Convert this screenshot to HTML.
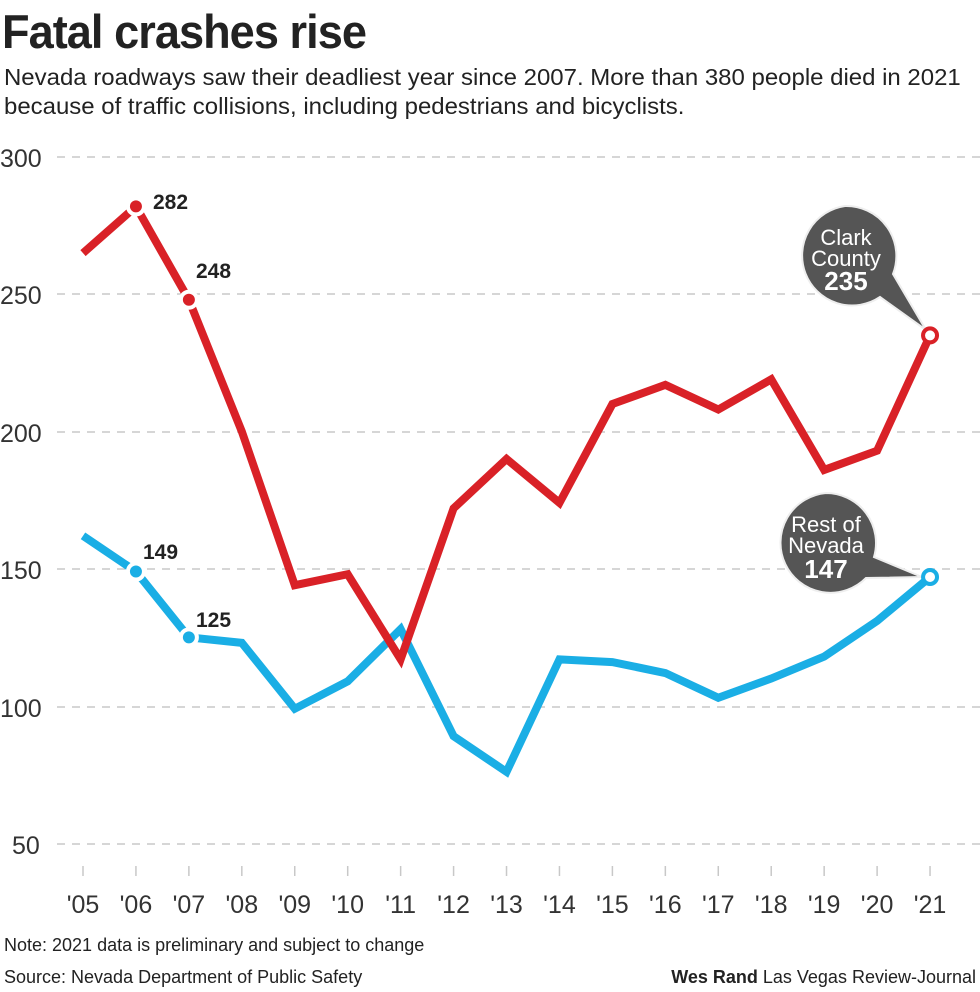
<!DOCTYPE html>
<html><head><meta charset="utf-8"><style>
html,body{margin:0;padding:0;background:#fff;}
body{width:980px;height:992px;position:relative;overflow:hidden;font-family:"Liberation Sans",sans-serif;color:#222;}
.t{position:absolute;white-space:nowrap;}
</style></head><body>
<div class="t" style="left:2px;top:4px;font-size:47px;font-weight:bold;letter-spacing:-1px;transform:scaleX(0.96);transform-origin:0 0;">Fatal crashes rise</div>
<div class="t" style="left:4px;top:63px;font-size:23.5px;line-height:29px;color:#222;transform:scaleX(1.02);transform-origin:0 0;">Nevada roadways saw their deadliest year since 2007. More than 380 people died in 2021<br>because of traffic collisions, including pedestrians and bicyclists.</div>
<svg width="980" height="992" style="position:absolute;left:0;top:0" font-family="Liberation Sans, sans-serif">
<g stroke="#c8c8c8" stroke-width="1.5" stroke-dasharray="8,7">
<line x1="57" x2="980" y1="157" y2="157"/>
<line x1="57" x2="980" y1="294" y2="294"/>
<line x1="57" x2="980" y1="432" y2="432"/>
<line x1="57" x2="980" y1="569" y2="569"/>
<line x1="57" x2="980" y1="707" y2="707"/>
<line x1="57" x2="980" y1="844" y2="844"/>
</g>
<g font-size="25" fill="#333">
<text x="0" y="167">300</text><text x="0" y="304">250</text><text x="0" y="442">200</text>
<text x="0" y="579">150</text><text x="0" y="717">100</text><text x="12" y="854">50</text>
</g>
<g stroke="#c8c8c8" stroke-width="1.5" id="vt"></g>
<g id="xl" font-size="25" fill="#333" text-anchor="middle"></g>
<polyline id="blue" fill="none" stroke="#1aaee5" stroke-width="8" stroke-linejoin="miter"/>
<polyline id="red" fill="none" stroke="#d92127" stroke-width="8" stroke-linejoin="miter"/>
<g id="marks"></g>
<g font-size="21" font-weight="bold" fill="#222">
<text x="153" y="209">282</text><text x="196" y="278">248</text>
<text x="143" y="559">149</text><text x="196" y="627">125</text>
</g>
<path d="M845,206 a50,50 0 0 1 48,68 L926,330 L880,297 a50,50 0 1 1 -35,-91z" fill="#555" stroke="#eee" stroke-width="2"/>
<g fill="#fff" text-anchor="middle"><text x="846" y="245" font-size="22">Clark</text><text x="846" y="266" font-size="22">County</text><text x="846" y="290" font-size="26" font-weight="bold">235</text></g>
<path d="M826,493 a50,50 0 0 1 48,64 L922,577 L866,578 a50,50 0 1 1 -40,-85z" fill="#555" stroke="#eee" stroke-width="2"/>
<g fill="#fff" text-anchor="middle"><text x="826" y="532" font-size="22">Rest of</text><text x="826" y="553" font-size="22">Nevada</text><text x="826" y="578" font-size="26" font-weight="bold">147</text></g>
<g id="ends"></g>
<text x="4" y="951" font-size="18" fill="#222">Note: 2021 data is preliminary and subject to change</text>
<text x="4" y="983" font-size="18" fill="#222">Source: Nevada Department of Public Safety</text>
<text x="976" y="983" font-size="18" fill="#222" text-anchor="end"><tspan font-weight="bold">Wes Rand</tspan>  Las Vegas Review-Journal</text>
</svg>
<script>
const red=[265,282,248,200,144,148,117,172,190,174,210,217,208,219,186,193,235];
const blue=[162,149,125,123,99,109,128,89,76,117,116,112,103,110,118,131,147];
const X=i=>83+i*52.94, Y=v=>157+(300-v)*2.745;
const ns="http://www.w3.org/2000/svg";
function el(p,t,a){const e=document.createElementNS(ns,t);for(const k in a)e.setAttribute(k,a[k]);document.getElementById(p).appendChild(e);return e;}
document.getElementById('red').setAttribute('points',red.map((v,i)=>X(i)+','+Y(v)).join(' '));
document.getElementById('blue').setAttribute('points',blue.map((v,i)=>X(i)+','+Y(v)).join(' '));
for(let i=0;i<17;i++){
 el('vt','line',{x1:X(i),x2:X(i),y1:866,y2:876});
 const t=el('xl','text',{x:X(i),y:913});t.textContent="'"+String(5+i).padStart(2,'0');
}
[[1,red,'#d92127'],[2,red,'#d92127'],[1,blue,'#1aaee5'],[2,blue,'#1aaee5']].forEach(([i,a,c])=>{
 el('marks','circle',{cx:X(i),cy:Y(a[i]),r:8,fill:c,stroke:'#fff',"stroke-width":4});
});
el('ends','circle',{cx:X(16),cy:Y(235),r:7,fill:'#fff',stroke:'#d92127',"stroke-width":4});
el('ends','circle',{cx:X(16),cy:Y(147),r:7,fill:'#fff',stroke:'#1aaee5',"stroke-width":4});
</script>
</body></html>
